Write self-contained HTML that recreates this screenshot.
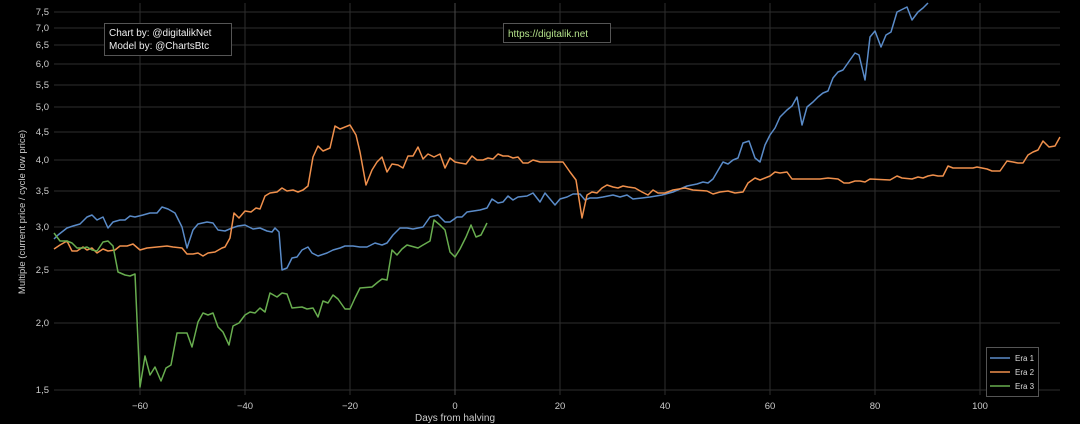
<!DOCTYPE html>
<html><head><meta charset="utf-8"><style>
html,body{margin:0;padding:0;background:#000;}
svg{display:block;font-family:"Liberation Sans",sans-serif;}
</style></head><body>
<svg width="1080" height="424" viewBox="0 0 1080 424" xmlns="http://www.w3.org/2000/svg">
<rect width="1080" height="424" fill="#000"/>
<g stroke="#2e2e2e" stroke-width="1">
<line x1="54" y1="12" x2="1060" y2="12"/><line x1="54" y1="28" x2="1060" y2="28"/>
<line x1="54" y1="45" x2="1060" y2="45"/><line x1="54" y1="64" x2="1060" y2="64"/>
<line x1="54" y1="85" x2="1060" y2="85"/><line x1="54" y1="107" x2="1060" y2="107"/>
<line x1="54" y1="132" x2="1060" y2="132"/><line x1="54" y1="160" x2="1060" y2="160"/>
<line x1="54" y1="191" x2="1060" y2="191"/><line x1="54" y1="227" x2="1060" y2="227"/>
<line x1="54" y1="270" x2="1060" y2="270"/><line x1="54" y1="323" x2="1060" y2="323"/>
<line x1="54" y1="390" x2="1060" y2="390"/>
<line x1="140" y1="3" x2="140" y2="395"/><line x1="245" y1="3" x2="245" y2="395"/>
<line x1="350" y1="3" x2="350" y2="395"/><line x1="560" y1="3" x2="560" y2="395"/>
<line x1="665" y1="3" x2="665" y2="395"/><line x1="770" y1="3" x2="770" y2="395"/>
<line x1="875" y1="3" x2="875" y2="395"/><line x1="980" y1="3" x2="980" y2="395"/>
</g>
<line x1="455" y1="3" x2="455" y2="395" stroke="#4a4a4a"/>
<g fill="#ccc" font-size="9.5" text-anchor="end">
<text x="49" y="15">7,5</text><text x="49" y="31">7,0</text><text x="49" y="48">6,5</text>
<text x="49" y="67">6,0</text><text x="49" y="88">5,5</text><text x="49" y="110">5,0</text>
<text x="49" y="135">4,5</text><text x="49" y="163">4,0</text><text x="49" y="194">3,5</text>
<text x="49" y="230">3,0</text><text x="49" y="273">2,5</text><text x="49" y="326">2,0</text>
<text x="49" y="393">1,5</text>
</g>
<g fill="#ccc" font-size="9.5" text-anchor="middle">
<text x="140" y="409">−60</text><text x="245" y="409">−40</text><text x="350" y="409">−20</text>
<text x="455" y="409">0</text><text x="560" y="409">20</text><text x="665" y="409">40</text>
<text x="770" y="409">60</text><text x="875" y="409">80</text><text x="980" y="409">100</text>
<text x="455" y="421" font-size="10">Days from halving</text>
<text transform="translate(25,212) rotate(-90)" font-size="9.5">Multiple (current price / cycle low price)</text>
</g>
<g fill="none" stroke-width="1.5" stroke-linejoin="round">
<polyline stroke="#5a8bc8" points="54,239 58,235 67,228 73,226 80,224 87,217 92,215 97,220 103,217 108,228 113,222 120,220 125,220 130,216 135,217 143,215 150,213 157,213 162,207 168,209 175,213 182,227 187,248 193,230 198,224 207,222 213,223 218,230 225,231 232,228 238,226 245,225 253,229 260,228 267,231 272,232 275,228 279,232 282,270 287,268 292,258 297,257 302,250 308,247 312,253 318,256 327,253 333,250 340,248 345,246 353,246 360,247 367,247 375,243 382,245 387,243 393,235 400,228 407,228 413,229 423,227 430,217 438,215 445,222 450,222 457,217 462,217 467,212 480,210 487,208 492,199 498,203 503,202 508,196 513,200 518,197 527,196 533,193 540,202 545,193 555,205 560,199 567,197 573,194 580,194 585,200 590,198 597,198 603,197 613,195 620,197 627,195 633,199 642,198 650,197 662,195 673,192 687,186 697,184 703,182 708,183 713,179 720,167 723,162 728,164 733,160 738,158 743,143 749,141 755,158 760,162 765,145 770,135 775,128 780,117 787,110 792,106 797,97 802,125 807,107 813,102 818,97 823,93 828,91 833,78 838,72 843,70 850,60 855,53 859,55 865,80 870,37 875,31 881,47 886,35 891,32 897,12 907,7 912,20 918,12 923,8 928,3"/>
<polyline stroke="#f0904c" points="54,249 60,245 67,241 72,251 77,251 83,247 87,250 92,248 97,253 103,249 108,251 115,250 120,246 127,246 133,244 140,250 147,248 157,247 167,246 173,247 182,248 187,254 193,254 198,253 203,256 208,253 215,252 222,248 225,247 230,238 234,213 239,218 245,211 251,212 256,208 260,209 265,196 270,193 277,192 282,188 287,191 293,190 298,192 303,190 308,186 313,157 318,146 323,151 330,148 335,126 340,129 350,125 356,135 360,152 366,185 372,170 377,162 382,157 387,172 392,164 398,165 403,168 408,156 413,156 418,147 423,159 428,154 434,157 440,154 445,168 450,158 455,162 460,163 466,164 472,156 477,160 483,160 488,158 493,159 498,154 503,156 508,156 513,158 518,157 523,163 528,163 533,160 540,162 547,162 563,162 570,172 576,180 582,218 587,195 592,192 597,193 602,188 607,185 613,187 618,188 623,186 628,187 635,188 642,192 648,195 653,190 658,193 665,193 673,190 685,188 693,190 707,191 713,194 720,192 728,191 735,193 743,192 748,183 755,178 760,180 770,176 775,172 780,173 787,172 792,179 800,179 820,179 828,178 838,179 844,183 849,183 855,181 860,181 865,182 870,179 890,180 897,176 902,178 912,179 918,177 923,178 928,176 933,175 938,176 943,176 948,166 953,168 960,168 973,168 977,167 987,169 992,171 1000,171 1007,161 1013,162 1018,163 1023,163 1028,155 1033,152 1038,150 1043,141 1049,147 1055,146 1060,137"/>
<polyline stroke="#68ad4f" points="54,233 60,241 67,241 72,243 77,248 83,248 87,247 92,250 97,251 103,242 108,241 113,246 118,272 125,275 130,276 135,274 140,387 145,356 150,375 155,367 161,381 166,368 171,365 177,333 182,333 187,333 192,347 198,322 203,313 208,315 213,313 218,327 223,332 229,345 233,326 239,323 245,315 250,312 255,313 260,308 265,312 270,293 277,297 282,293 287,294 292,308 302,307 307,309 313,308 318,317 323,301 328,303 333,295 338,299 345,309 350,309 355,298 360,288 372,287 378,282 382,279 387,280 392,250 397,255 402,249 407,245 418,248 423,245 430,241 434,220 440,225 445,230 450,252 455,257 460,249 466,237 471,225 476,237 481,235 487,223"/>
</g>
<rect x="104.5" y="23.5" width="127" height="32" fill="#000" stroke="#555"/>
<text x="109" y="36" fill="#eee" font-size="10">Chart by: @digitalikNet</text>
<text x="109" y="49" fill="#eee" font-size="10">Model by: @ChartsBtc</text>
<rect x="503.5" y="23.5" width="107" height="19" fill="#000" stroke="#555"/>
<text x="508" y="37" fill="#b4e28a" font-size="10">https://digitalik.net</text>
<rect x="986.5" y="347.5" width="52" height="49" fill="#000" stroke="#555"/>
<g stroke-width="1.5"><line x1="990" y1="358" x2="1010" y2="358" stroke="#5a8bc8"/>
<line x1="990" y1="372" x2="1010" y2="372" stroke="#f0904c"/>
<line x1="990" y1="386" x2="1010" y2="386" stroke="#68ad4f"/></g>
<g fill="#ddd" font-size="8"><text x="1015" y="361">Era 1</text><text x="1015" y="375">Era 2</text><text x="1015" y="389">Era 3</text></g>
</svg>
</body></html>
